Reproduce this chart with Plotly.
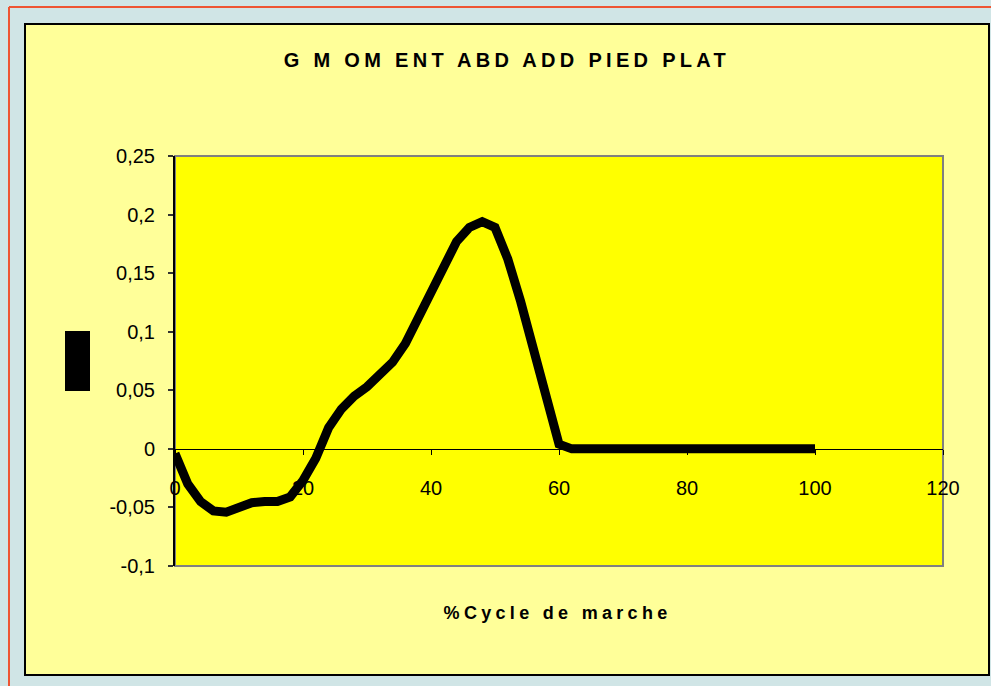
import plotly.graph_objects as go

# Abduction/adduction moment, flat foot, over the gait cycle (% cycle, 2% steps)
cycle_pct = list(range(0, 101, 2))
moment = [
    -0.004, -0.030, -0.045, -0.053, -0.054, -0.049, -0.046, -0.045, -0.045, -0.041,
    -0.027, -0.008, 0.018, 0.034, 0.045, 0.053, 0.063, 0.074, 0.090, 0.112,
    0.133, 0.155, 0.177, 0.189, 0.194, 0.189, 0.162, 0.126, 0.086, 0.043,
    0.004, 0.0, 0.0, 0.0, 0.0, 0.0, 0.0, 0.0, 0.0, 0.0,
    0.0, 0.0, 0.0, 0.0, 0.0, 0.0, 0.0, 0.0, 0.0, 0.0,
    0.0,
]

title_text = "G M OM ENT ABD ADD PIED PLAT"
x_title_text = "%Cycle de marche"

x_range = [0, 120]
x_ticks = [0, 20, 40, 60, 80, 100, 120]
y_range = [-0.1, 0.25]
y_ticks = [-0.1, -0.05, 0, 0.05, 0.1, 0.15, 0.2, 0.25]
y_tick_labels = ["-0,1", "-0,05", "0", "0,05", "0,1", "0,15", "0,2", "0,25"]

W, H = 991, 686
L, R, T, B = 175, 48, 156, 120
pw, ph = W - L - R, H - T - B


def px_x(px):
    return (px - L) / pw


def px_y(py):
    return (H - B - py) / ph


FONT = "Liberation Sans, Arial, sans-serif"

fig = go.Figure()
fig.add_trace(go.Scatter(
    x=cycle_pct, y=moment, mode="lines",
    line=dict(color="black", width=9),
    hoverinfo="skip", showlegend=False,
))

shapes = [
    # chart area panel
    dict(type="rect", xref="paper", yref="paper",
         x0=px_x(25), x1=px_x(989), y0=px_y(675), y1=px_y(24),
         fillcolor="#ffff99", line=dict(color="black", width=2), layer="below"),
    # plot area with grey frame
    dict(type="rect", xref="paper", yref="paper",
         x0=0, x1=1, y0=0, y1=1,
         fillcolor="#ffff00", line=dict(color="#808080", width=2), layer="below"),
    # red guide lines around the page
    dict(type="line", xref="paper", yref="paper",
         x0=px_x(9), x1=px_x(991), y0=px_y(7), y1=px_y(7),
         line=dict(color="#ee5533", width=2), layer="below"),
    dict(type="line", xref="paper", yref="paper",
         x0=px_x(9), x1=px_x(9), y0=px_y(7), y1=px_y(686),
         line=dict(color="#ee5533", width=2), layer="below"),
    # vertical axis title block
    dict(type="rect", xref="paper", yref="paper",
         x0=px_x(65), x1=px_x(90), y0=px_y(391), y1=px_y(331),
         fillcolor="black", line=dict(width=0), layer="above"),
]

zero_pos = (0 - y_range[0]) / (y_range[1] - y_range[0])

fig.update_layout(
    width=W, height=H,
    margin=dict(l=L, r=R, t=T, b=B, pad=0),
    paper_bgcolor="#d0e5e6",
    plot_bgcolor="#ffff00",
    separators=", ",
    font=dict(family=FONT, size=20, color="black"),
    shapes=shapes,
    xaxis=dict(
        range=x_range, tickvals=x_ticks, anchor="free", position=zero_pos,
        showgrid=False, zeroline=False, showline=True, linecolor="black", linewidth=1,
        ticks="outside", ticklen=5, tickcolor="black", tickwidth=1,
        ticklabelstandoff=16, tickfont=dict(size=20, family=FONT),
    ),
    yaxis=dict(
        range=y_range, tickvals=y_ticks, ticktext=y_tick_labels,
        showgrid=False, zeroline=False, showline=True, linecolor="black", linewidth=2,
        ticks="outside", ticklen=5, tickcolor="#333333", tickwidth=1.5,
        ticklabelstandoff=9, tickfont=dict(size=20, family=FONT),
    ),
    annotations=[
        dict(text="<b>" + title_text + "</b>", xref="paper", yref="paper",
             x=px_x(507), y=px_y(60), xanchor="center", yanchor="middle",
             showarrow=False, font=dict(size=20, family=FONT, color="black")),
        dict(text="<b>" + x_title_text + "</b>", xref="paper", yref="paper",
             x=px_x(557), y=px_y(613), xanchor="center", yanchor="middle",
             showarrow=False, font=dict(size=18, family=FONT, color="black")),
    ],
)

# widen the letter spacing of the two bold titles
spacing_js = """
document.querySelectorAll('.annotation-text').forEach(function (t) {
    var s = t.textContent.indexOf('MOM') >= 0 ? '5.1px' : '4.3px';
    t.style.letterSpacing = s;
});
"""

fig.write_html("out.html", post_script=spacing_js)
